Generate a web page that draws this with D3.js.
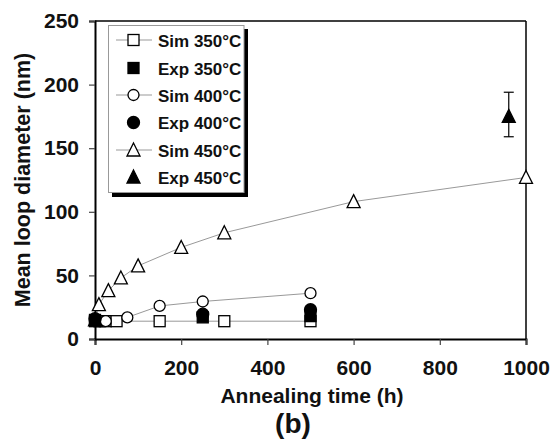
<!DOCTYPE html>
<html><head><meta charset="utf-8">
<script src="https://cdn.jsdelivr.net/npm/d3@7"></script>
<style>body{margin:0;background:#fff}svg{display:block}</style>
</head><body><svg id="c" width="552" height="443"></svg>
<script>
const xTicks = [0, 200, 400, 600, 800, 1000];
const yTicks = [0, 50, 100, 150, 200, 250];
const sim350 = [[0,14],[10,14],[25,14],[50,14],[150,14],[300,14],[500,14]];
const sim400 = [[0,14],[10,14],[25,14],[75,17],[150,26],[250,29.5],[500,36]];
const sim450 = [[0,15],[9,27],[31,38],[60,48],[100,57.5],[200,72],[300,83.5],[600,108],[1000,127]];
const exp350 = [[0,15],[250,17],[500,18]];
const exp400 = [[0,16],[250,19.5],[500,23]];
const exp450 = [[960,175]];
const exp450Err = [[960,159,194]];
const legendLabels = ["Sim 350°C","Exp 350°C","Sim 400°C","Exp 400°C","Sim 450°C","Exp 450°C"];

const svg = d3.select("#c");
const x = d3.scaleLinear().domain([0,1000]).range([95,526]);
const y = d3.scaleLinear().domain([0,250]).range([339,21]);
const font = "'Liberation Sans', Arial, sans-serif";

// frame top & right
svg.append("line").attr("x1",x(0)).attr("x2",x(1000)).attr("y1",y(250)).attr("y2",y(250)).attr("stroke","#000").attr("stroke-width",1.5);
svg.append("line").attr("x1",x(1000)).attr("x2",x(1000)).attr("y1",y(250)).attr("y2",y(0)).attr("stroke","#000").attr("stroke-width",1.5);

const xa = svg.append("g").attr("transform",`translate(0,${y(0)})`)
  .call(d3.axisBottom(x).tickValues(xTicks).tickSize(6).tickPadding(15).tickFormat(d3.format("d")));
const ya = svg.append("g").attr("transform",`translate(${x(0)},0)`)
  .call(d3.axisLeft(y).tickValues(yTicks).tickSize(6).tickPadding(10).tickFormat(d3.format("d")));
[xa,ya].forEach(a=>{
  a.select(".domain").attr("stroke","#000").attr("stroke-width",2);
  a.selectAll(".tick line").attr("stroke","#444").attr("stroke-width",1.2);
  a.selectAll("text").attr("font-family",font).attr("font-weight","bold").attr("font-size",21).attr("fill","#111");
});

const line = d3.line().x(d=>x(d[0])).y(d=>y(d[1]));
[sim350,sim400,sim450].forEach(s=>{
  svg.append("path").attr("d",line(s)).attr("fill","none").attr("stroke","#999").attr("stroke-width",1);
});

function marker(g, type, filled, cx, cy){
  const fill = filled ? "#000" : "#fff";
  if(type==="square"){
    g.append("rect").attr("x",cx-5.5).attr("y",cy-5.5).attr("width",11).attr("height",11)
      .attr("fill",fill).attr("stroke","#000").attr("stroke-width",1.3);
  } else if(type==="circle"){
    g.append("circle").attr("cx",cx).attr("cy",cy).attr("r",filled?6:5.5)
      .attr("fill",fill).attr("stroke","#000").attr("stroke-width",1.3);
  } else {
    const h=12, w=13;
    g.append("path").attr("d",`M${cx},${cy-h/2-1}L${cx+w/2},${cy+h/2}L${cx-w/2},${cy+h/2}Z`)
      .attr("fill",fill).attr("stroke","#000").attr("stroke-width",1.3);
  }
}
const gm = svg.append("g");
sim350.forEach(d=>marker(gm,"square",false,x(d[0]),y(d[1])));
sim400.forEach(d=>marker(gm,"circle",false,x(d[0]),y(d[1])));
sim450.forEach(d=>marker(gm,"tri",false,x(d[0]),y(d[1])));
// error bar
exp450Err.forEach(d=>{
  const g = svg.append("g").attr("stroke","#000").attr("stroke-width",1.2);
  g.append("line").attr("x1",x(d[0])).attr("x2",x(d[0])).attr("y1",y(d[1])).attr("y2",y(d[2]));
  g.append("line").attr("x1",x(d[0])-5).attr("x2",x(d[0])+5).attr("y1",y(d[1])).attr("y2",y(d[1]));
  g.append("line").attr("x1",x(d[0])-5).attr("x2",x(d[0])+5).attr("y1",y(d[2])).attr("y2",y(d[2]));
});
exp350.forEach(d=>marker(gm,"square",true,x(d[0]),y(d[1])));
exp400.forEach(d=>marker(gm,"circle",true,x(d[0]),y(d[1])));
exp450.forEach(d=>marker(gm,"tri",true,x(d[0]),y(d[1])));

// legend
const lg = svg.append("g");
lg.append("rect").attr("x",112).attr("y",29).attr("width",136).attr("height",168).attr("fill","#000");
lg.append("rect").attr("x",108.5).attr("y",25.5).attr("width",135.5).attr("height",167).attr("fill","#fff").attr("stroke","#999").attr("stroke-width",1);
const types = ["square","square","circle","circle","tri","tri"];
const rowsY = [40,68,95,122.5,150,177];
legendLabels.forEach((t,i)=>{
  const cy = rowsY[i];
  const filled = i%2===1;
  if(!filled) lg.append("line").attr("x1",116).attr("x2",152).attr("y1",cy).attr("y2",cy).attr("stroke","#999").attr("stroke-width",1);
  marker(lg, types[i], filled, 133.5, cy);
  lg.append("text").attr("x",158).attr("y",cy+6.5).text(t)
    .attr("font-family",font).attr("font-weight","bold").attr("font-size",17).attr("fill","#111");
});

// axis titles
svg.append("text").attr("x",312).attr("y",403).attr("text-anchor","middle").text("Annealing time (h)")
  .attr("font-family",font).attr("font-weight","bold").attr("font-size",21).attr("fill","#111");
svg.append("text").attr("transform","translate(30,180) rotate(-90)").attr("text-anchor","middle").text("Mean loop diameter (nm)")
  .attr("font-family",font).attr("font-weight","bold").attr("font-size",21.5).attr("fill","#111");
svg.append("text").attr("x",293).attr("y",433).attr("text-anchor","middle").text("(b)")
  .attr("font-family",font).attr("font-weight","bold").attr("font-size",28).attr("fill","#111");
</script></body></html>
